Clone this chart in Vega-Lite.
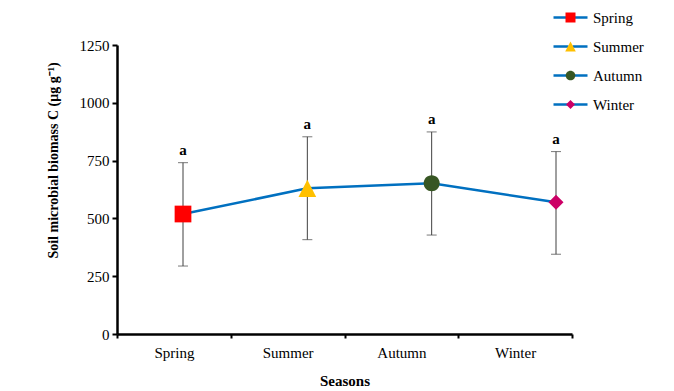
{
  "$schema": "https://vega.github.io/schema/vega-lite/v6.json",
  "width": 455,
  "height": 289,
  "autosize": {"type": "none"},
  "padding": {"left": 117, "top": 45, "right": 102, "bottom": 57},
  "background": "white",
  "config": {
    "view": {"stroke": null},
    "font": "Liberation Serif",
    "axis": {"labelFont": "Liberation Serif", "titleFont": "Liberation Serif"},
    "legend": {"labelFont": "Liberation Serif"}
  },
  "data": {
    "values": [
      {"season": "Spring", "key": "Spring", "mean": 519, "lo": 294, "hi": 741, "sig": "a"},
      {"season": "Summer", "key": "Summer", "mean": 630, "lo": 408, "hi": 853, "sig": "a"},
      {"season": "Autumn", "key": "Autumn", "mean": 652, "lo": 428, "hi": 874, "sig": "a"},
      {"season": "Winter", "key": "Winter", "mean": 570, "lo": 345, "hi": 789, "sig": "a"}
    ]
  },
  "resolve": {"scale": {"x": "independent"}},
  "layer": [
    {
      "mark": {"type": "point", "opacity": 0},
      "encoding": {
        "x": {
          "field": "season", "type": "nominal", "sort": ["Spring", "Summer", "Autumn", "Winter"],
          "scale": {"type": "band", "paddingInner": 0, "paddingOuter": 0},
          "axis": {
            "title": "Seasons", "labelAngle": 0, "tickBand": "extent",
            "domainColor": "black", "domainWidth": 2.5, "tickColor": "black", "tickWidth": 2, "tickSize": 4,
            "labelFontSize": 15, "labelColor": "black", "labelPadding": 7,
            "titleFontSize": 15, "titleFontWeight": "bold", "titleColor": "black", "titlePadding": 13
          }
        },
        "y": {
          "field": "mean", "type": "quantitative",
          "scale": {"domain": [0, 1250], "nice": false},
          "axis": {
            "title": "Soil microbial biomass C (μg g⁻¹)", "values": [0, 250, 500, 750, 1000, 1250], "format": "d", "grid": false,
            "domainColor": "black", "domainWidth": 2.5, "tickColor": "black", "tickWidth": 2, "tickSize": 5,
            "labelFontSize": 15, "labelColor": "black", "labelPadding": 3,
            "titleFontSize": 14, "titleFontWeight": "bold", "titleColor": "black",
            "titleX": -64, "titleY": 115, "titleAngle": -90, "titleAlign": "center", "titleBaseline": "middle"
          }
        }
      }
    },
    {
      "layer": [
        {
          "mark": {"type": "rule", "color": "#404040", "strokeWidth": 1},
          "encoding": {"y": {"field": "lo", "type": "quantitative"}, "y2": {"field": "hi"}}
        },
        {
          "mark": {"type": "tick", "orient": "horizontal", "color": "#404040", "thickness": 1, "size": 10},
          "encoding": {"y": {"field": "lo", "type": "quantitative"}}
        },
        {
          "mark": {"type": "tick", "orient": "horizontal", "color": "#404040", "thickness": 1, "size": 10},
          "encoding": {"y": {"field": "hi", "type": "quantitative"}}
        },
        {
          "mark": {"type": "text", "baseline": "bottom", "dy": -5, "font": "Liberation Serif", "fontSize": 15, "fontWeight": "bold", "color": "black"},
          "encoding": {"y": {"field": "hi", "type": "quantitative"}, "text": {"field": "sig"}}
        },
        {
          "mark": {"type": "line", "color": "#0070C0", "strokeWidth": 2.5},
          "encoding": {"y": {"field": "mean", "type": "quantitative"}}
        },
        {
          "mark": {"type": "line", "strokeWidth": 2.5},
          "encoding": {
            "y": {"field": "mean", "type": "quantitative"},
            "stroke": {
              "field": "key", "type": "nominal", "sort": ["Spring", "Summer", "Autumn", "Winter"],
              "scale": {"range": ["#0070C0", "#0070C0", "#0070C0", "#0070C0"]},
              "legend": {
                "title": null, "orient": "none", "legendX": 446, "legendY": -35,
                "symbolType": "M-3.4,0H-0.4M0.4,0H3.4", "symbolSize": 100, "symbolStrokeWidth": 2.5,
                "labelFontSize": 15, "labelColor": "black", "labelOffset": 15,
                "rowPadding": 13, "padding": 0
              }
            }
          }
        },
        {
          "mark": {"type": "point", "filled": true, "opacity": 1, "size": 280},
          "encoding": {
            "y": {"field": "mean", "type": "quantitative"},
            "fill": {
              "field": "season", "type": "nominal",
              "scale": {"domain": ["Spring", "Summer", "Autumn", "Winter"], "range": ["#FF0000", "#FFC000", "#375623", "#CC0066"]},
              "legend": {
                "title": null, "orient": "none", "legendX": 446, "legendY": -35,
                "symbolSize": 100, "symbolOpacity": 1, "symbolStrokeWidth": 0,
                "labelFontSize": 15, "labelOpacity": 0, "labelOffset": 15,
                "rowPadding": 13, "padding": 0
              }
            },
            "shape": {
              "field": "season", "type": "nominal",
              "scale": {"domain": ["Spring", "Summer", "Autumn", "Winter"], "range": ["square", "M0,-1.02L1.06,1.02L-1.06,1.02Z", "M0.96,0A0.96,0.96,0,1,1,-0.96,0A0.96,0.96,0,1,1,0.96,0Z", "M0,-0.9L0.9,0L0,0.9L-0.9,0Z"]}
            }
          }
        }
      ],
      "encoding": {
        "x": {
          "field": "season", "type": "nominal", "sort": ["Spring", "Summer", "Autumn", "Winter"],
          "scale": {"type": "point", "range": [66, 439], "padding": 0},
          "axis": null
        }
      }
    }
  ]
}
